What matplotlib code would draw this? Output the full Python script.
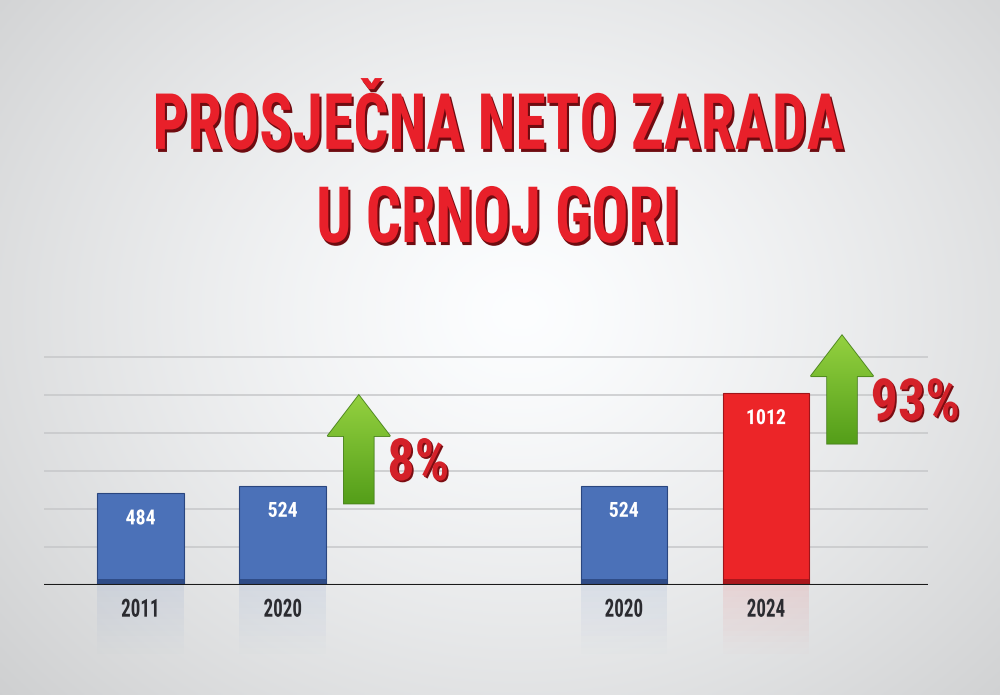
import numpy as np
import matplotlib
matplotlib.use('Agg')
import matplotlib.pyplot as plt
from matplotlib import font_manager
from matplotlib.patches import FancyArrow
from matplotlib.transforms import Affine2D
import matplotlib.patheffects as pe

# chart data
years = ['2011', '2020', '2020', '2024']
salaries = [484, 524, 524, 1012]
bar_colors = ['#4b71b8', '#4b71b8', '#4b71b8', '#ec2528']
bar_dark = ['#2a467f', '#2a467f', '#2a467f', '#a0151a']
positions = [0, 1, 3.4, 4.4]
title = 'PROSJEČNA NETO ZARADA\nU CRNOJ GORI'

# pick a narrow bold font if one is installed
names = {f.name for f in font_manager.fontManager.ttflist}
narrow = 'DejaVu Sans'
for cand in ['Liberation Sans Narrow', 'Roboto Condensed', 'DejaVu Sans']:
    if cand in names:
        narrow = cand
        break
# how much narrower than the chosen font the poster lettering is
k = 1.0 if narrow != 'DejaVu Sans' else 0.66


class Squeeze(pe.AbstractPathEffect):
    """Draw text narrower (about its own centre), with an optional drop shadow."""

    def __init__(self, sx, shadow=None, offset=(0, 0)):
        super().__init__()
        self.sx = sx
        self.shadow = shadow
        self.off = offset

    def draw_path(self, renderer, gc, tpath, affine, rgbFace=None):
        ext = tpath.get_extents()
        cx = (ext.x0 + ext.x1) / 2
        t = Affine2D().translate(-cx, 0).scale(self.sx, 1).translate(cx, 0) + affine
        if self.shadow is not None:
            dx = renderer.points_to_pixels(self.off[0])
            dy = renderer.points_to_pixels(self.off[1])
            gc0 = renderer.new_gc()
            gc0.copy_properties(gc)
            gc0.set_foreground(self.shadow)
            gc0.set_linewidth(0)
            renderer.draw_path(gc0, tpath, t + Affine2D().translate(dx, dy),
                               matplotlib.colors.to_rgba(self.shadow))
            gc0.restore()
        renderer.draw_path(gc, tpath, t, rgbFace)


fig = plt.figure(figsize=(10, 6.95), dpi=100)

# radial background, white in the middle, gray at the edges
bg = fig.add_axes([0, 0, 1, 1], zorder=-10)
yy, xx = np.mgrid[0:1:300j, 0:1:430j]
r = np.sqrt(((xx - 0.52) / 0.75) ** 2 + ((yy - 0.55) / 0.9) ** 2)
shade = np.clip(1 - 0.2 * r ** 1.3, 0, 1)
bg.imshow(np.dstack([shade * 0.99, shade * 0.995, shade]), extent=[0, 1, 0, 1],
          aspect='auto', origin='lower')
bg.axis('off')

ax = fig.add_axes([0.044, 0.158, 0.884, 0.369])
ax.set_facecolor('none')
ax.set_xlim(-0.68, 5.54)
ax.set_ylim(0, 1350)

for y in range(200, 1201, 200):
    ax.axhline(y, color='#c6c7c9', lw=1.1, zorder=0)
ax.axhline(0, color='#1a1a1a', lw=1.5, zorder=5)

bars = ax.bar(positions, salaries, width=0.61, color=bar_colors, zorder=3,
              edgecolor=bar_dark, linewidth=0.8)
# darker band at the foot of each bar and a faint reflection under the axis
ax.bar(positions, [30] * len(positions), width=0.61, color=bar_dark, zorder=4, alpha=0.85)
for p, c in zip(positions, bar_colors):
    for n in range(12):
        ax.bar(p, -30, bottom=-n * 30, width=0.61, color=c,
               alpha=0.10 * (1 - n / 12), zorder=1, clip_on=False, linewidth=0)

for b, v in zip(bars, salaries):
    ax.text(b.get_x() + b.get_width() / 2, v - 135, str(v), ha='center', va='center',
            color='white', fontsize=15, fontweight='bold', family=narrow, zorder=6,
            path_effects=[Squeeze(0.95 * k)])

ax.set_xticks(positions)
ax.set_xticklabels(years, fontsize=18, fontweight='bold', family=narrow, color='#2b2b30',
                   path_effects=[Squeeze(0.76 * k)])
ax.tick_params(axis='x', length=0, pad=9)
ax.set_yticks([])
for s in ax.spines.values():
    s.set_visible(False)

# growth arrows with percentage
pct_sx = 0.93 * k
pairs = [(0, 1, 430), (2, 3, 745)]
for i, j, base in pairs:
    pct = round((salaries[j] / salaries[i] - 1) * 100)
    x = positions[j] + 0.535
    arr = FancyArrow(x, base, 0, 570, width=0.21, head_width=0.44, head_length=215,
                     length_includes_head=True, facecolor='#78bd34',
                     edgecolor='#47801a', linewidth=1.2, zorder=6)
    ax.add_patch(arr)
    grad = np.linspace(0, 1, 100)[:, None]
    img = ax.imshow(np.dstack([0.33 + 0.25 * grad, 0.62 + 0.2 * grad, 0.1 + 0.15 * grad]),
                    extent=[x - 0.22, x + 0.22, base, base + 570], origin='lower',
                    aspect='auto', zorder=6.5)
    img.set_clip_path(arr)
    ax.text(x + 0.2, base + 205, f'{pct}%', ha='center', va='center', fontsize=42,
            fontweight='bold', family=narrow, color='#d42129', zorder=7,
            path_effects=[Squeeze(pct_sx, shadow='#7a0d12', offset=(1.2, -1.2))])

fig.canvas.draw()
# place the percentage labels so that their squeezed left edge sits beside the arrow
for t in ax.texts:
    if t.get_text().endswith('%'):
        w = t.get_window_extent().width * pct_sx
        x0 = ax.transData.transform((t.get_position()[0], 0))[0]
        t.set_x(ax.transData.inverted().transform((x0 + w / 2, 0))[0])

fig.text(0.498, 0.749, title, ha='center', va='center', fontsize=56, fontweight='bold',
         family=narrow, color='#e8202a', linespacing=1.33,
         path_effects=[Squeeze(0.795 * k, shadow='#6e0b10', offset=(1.5, -2.2))])

fig.savefig('out.png', dpi=100)
